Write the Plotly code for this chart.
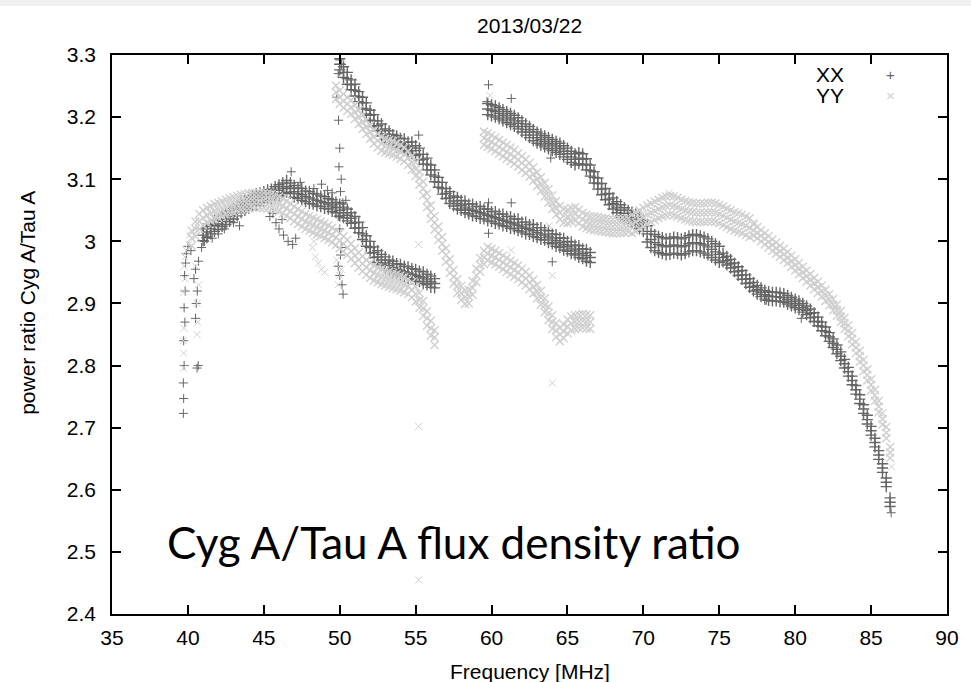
import plotly.graph_objects as go

# ---------------- tick labels ----------------
x_tick_vals = [35, 40, 45, 50, 55, 60, 65, 70, 75, 80, 85, 90]
x_tick_text = ["35", "40", "45", "50", "55", "60", "65", "70", "75", "80", "85", "90"]
y_tick_vals = [2.4, 2.5, 2.6, 2.7, 2.8, 2.9, 3.0, 3.1, 3.2, 3.3]
y_tick_text = ["2.4", "2.5", "2.6", "2.7", "2.8", "2.9", "3", "3.1", "3.2", "3.3"]

# ---------------- XX (band upper edge / middle / lower edge) ----------------
xx_a_freq = [41.00, 41.25, 41.50, 41.75, 42.00, 42.25, 42.50, 42.75, 43.00, 43.25, 43.50, 43.75,
             44.00, 44.25, 44.50, 44.75, 45.00, 45.25, 45.50, 45.75, 46.00, 46.25, 46.50, 46.75,
             47.00, 47.25, 47.50, 47.75, 48.00, 48.25, 48.50, 48.75, 49.00, 49.25, 49.50, 49.75,
             50.00, 50.25, 50.50, 50.75, 51.00, 51.25, 51.50, 51.75, 52.00, 52.25, 52.50, 52.75,
             53.00, 53.25, 53.50, 53.75, 54.00, 54.25, 54.50, 54.75, 55.00, 55.25, 55.50, 55.75,
             56.00, 56.25]
xx_a_upper = [3.020, 3.024, 3.027, 3.034, 3.036, 3.041, 3.044, 3.049, 3.053, 3.058, 3.063, 3.066,
              3.071, 3.073, 3.077, 3.078, 3.080, 3.083, 3.084, 3.088, 3.091, 3.094, 3.098, 3.094,
              3.090, 3.086, 3.085, 3.081, 3.080, 3.077, 3.076, 3.073, 3.072, 3.069, 3.067, 3.063,
              3.060, 3.055, 3.052, 3.046, 3.040, 3.031, 3.022, 3.009, 3.000, 2.991, 2.985, 2.979,
              2.975, 2.970, 2.968, 2.964, 2.963, 2.960, 2.959, 2.956, 2.955, 2.952, 2.951, 2.947,
              2.944, 2.940]
xx_a_middle = [3.010, 3.015, 3.020, 3.025, 3.028, 3.032, 3.036, 3.040, 3.045, 3.050, 3.055, 3.058,
               3.062, 3.065, 3.068, 3.070, 3.072, 3.074, 3.076, 3.078, 3.082, 3.085, 3.088, 3.085,
               3.080, 3.077, 3.075, 3.072, 3.070, 3.068, 3.066, 3.064, 3.062, 3.060, 3.057, 3.054,
               3.050, 3.046, 3.042, 3.037, 3.030, 3.022, 3.012, 3.000, 2.990, 2.982, 2.975, 2.970,
               2.965, 2.961, 2.958, 2.955, 2.953, 2.951, 2.949, 2.947, 2.945, 2.943, 2.941, 2.938,
               2.935, 2.932]
xx_a_lower = [3.001, 3.006, 3.012, 3.016, 3.019, 3.024, 3.027, 3.032, 3.036, 3.041, 3.046, 3.050,
              3.053, 3.057, 3.059, 3.062, 3.063, 3.066, 3.067, 3.070, 3.073, 3.077, 3.079, 3.077,
              3.071, 3.069, 3.066, 3.064, 3.061, 3.060, 3.057, 3.056, 3.053, 3.052, 3.048, 3.046,
              3.041, 3.038, 3.033, 3.029, 3.021, 3.014, 3.003, 2.992, 2.981, 2.974, 2.966, 2.962,
              2.956, 2.953, 2.949, 2.947, 2.944, 2.943, 2.940, 2.939, 2.936, 2.935, 2.932, 2.930,
              2.926, 2.925]

xx_b_freq = [50.00, 50.25, 50.50, 50.75, 51.00, 51.25, 51.50, 51.75, 52.00, 52.25, 52.50, 52.75,
             53.00, 53.25, 53.50, 53.75, 54.00, 54.25, 54.50, 54.75, 55.00, 55.25, 55.50, 55.75,
             56.00, 56.25, 56.50, 56.75, 57.00, 57.25, 57.50, 57.75, 58.00, 58.25, 58.50, 58.75,
             59.00, 59.25, 59.50, 59.75, 60.00, 60.25, 60.50, 60.75, 61.00, 61.25, 61.50, 61.75,
             62.00, 62.25, 62.50, 62.75, 63.00, 63.25, 63.50, 63.75, 64.00, 64.25, 64.50, 64.75,
             65.00, 65.25, 65.50, 65.75, 66.00, 66.25, 66.50]
xx_b_upper = [3.294, 3.281, 3.272, 3.260, 3.253, 3.241, 3.232, 3.223, 3.211, 3.204, 3.194, 3.189,
              3.181, 3.178, 3.172, 3.170, 3.166, 3.165, 3.160, 3.160, 3.154, 3.150, 3.140, 3.134,
              3.123, 3.115, 3.103, 3.095, 3.085, 3.080, 3.073, 3.071, 3.066, 3.065, 3.060, 3.060,
              3.056, 3.056, 3.052, 3.052, 3.048, 3.048, 3.044, 3.044, 3.040, 3.040, 3.036, 3.036,
              3.031, 3.031, 3.027, 3.027, 3.022, 3.022, 3.018, 3.017, 3.012, 3.011, 3.006, 3.005,
              3.000, 2.999, 2.994, 2.993, 2.988, 2.987, 2.982]
xx_b_middle = [3.285, 3.272, 3.262, 3.252, 3.243, 3.233, 3.223, 3.213, 3.203, 3.194, 3.186, 3.179,
               3.173, 3.168, 3.164, 3.160, 3.158, 3.155, 3.152, 3.150, 3.146, 3.140, 3.132, 3.124,
               3.115, 3.105, 3.095, 3.085, 3.077, 3.070, 3.065, 3.061, 3.058, 3.055, 3.052, 3.050,
               3.048, 3.046, 3.044, 3.042, 3.040, 3.038, 3.036, 3.034, 3.032, 3.030, 3.028, 3.026,
               3.023, 3.021, 3.019, 3.017, 3.014, 3.012, 3.010, 3.007, 3.004, 3.001, 2.998, 2.995,
               2.992, 2.989, 2.986, 2.983, 2.980, 2.977, 2.974]
xx_b_lower = [3.276, 3.264, 3.253, 3.244, 3.234, 3.225, 3.214, 3.205, 3.195, 3.185, 3.178, 3.170,
              3.165, 3.159, 3.156, 3.151, 3.150, 3.146, 3.144, 3.141, 3.138, 3.131, 3.124, 3.115,
              3.107, 3.096, 3.087, 3.076, 3.069, 3.061, 3.057, 3.052, 3.050, 3.046, 3.044, 3.041,
              3.040, 3.037, 3.036, 3.033, 3.032, 3.029, 3.028, 3.025, 3.024, 3.021, 3.020, 3.017,
              3.015, 3.012, 3.011, 3.008, 3.006, 3.003, 3.002, 2.998, 2.996, 2.992, 2.990, 2.986,
              2.984, 2.980, 2.978, 2.974, 2.972, 2.968, 2.966]

xx_c_freq = [59.75, 60.00, 60.25, 60.50, 60.75, 61.00, 61.25, 61.50, 61.75, 62.00, 62.25, 62.50,
             62.75, 63.00, 63.25, 63.50, 63.75, 64.00, 64.25, 64.50, 64.75, 65.00, 65.25, 65.50,
             65.75, 66.00, 66.25, 66.50, 66.75, 67.00, 67.25, 67.50, 67.75, 68.00, 68.25, 68.50,
             68.75, 69.00, 69.25, 69.50, 69.75, 70.00, 70.25, 70.50, 70.75, 71.00, 71.25, 71.50,
             71.75, 72.00, 72.25, 72.50, 72.75, 73.00, 73.25, 73.50, 73.75, 74.00, 74.25, 74.50,
             74.75, 75.00, 75.25, 75.50, 75.75, 76.00, 76.25, 76.50, 76.75, 77.00, 77.25, 77.50,
             77.75, 78.00, 78.25, 78.50, 78.75, 79.00, 79.25, 79.50, 79.75, 80.00, 80.25, 80.50,
             80.75, 81.00, 81.25, 81.50, 81.75, 82.00, 82.25, 82.50, 82.75, 83.00, 83.25, 83.50,
             83.75, 84.00, 84.25, 84.50, 84.75, 85.00, 85.25, 85.50, 85.75, 86.00, 86.25]
xx_c_upper = [3.222, 3.220, 3.218, 3.215, 3.212, 3.209, 3.206, 3.203, 3.199, 3.194, 3.189, 3.185,
              3.180, 3.176, 3.173, 3.170, 3.167, 3.164, 3.161, 3.158, 3.154, 3.150, 3.145, 3.141,
              3.143, 3.141, 3.133, 3.123, 3.112, 3.102, 3.093, 3.085, 3.077, 3.070, 3.064, 3.059,
              3.054, 3.050, 3.047, 3.044, 3.039, 3.034, 3.025, 3.016, 3.011, 3.008, 3.006, 3.004,
              3.005, 3.007, 3.006, 3.004, 3.006, 3.009, 3.011, 3.011, 3.009, 3.007, 3.004, 3.000,
              2.996, 2.992, 2.981, 2.976, 2.971, 2.965, 2.959, 2.953, 2.946, 2.940, 2.934, 2.929,
              2.925, 2.921, 2.919, 2.918, 2.918, 2.917, 2.916, 2.913, 2.910, 2.907, 2.904, 2.900,
              2.896, 2.891, 2.885, 2.878, 2.870, 2.862, 2.853, 2.843, 2.833, 2.822, 2.810, 2.797,
              2.783, 2.768, 2.753, 2.737, 2.720, 2.702, 2.683, 2.663, 2.642, 2.619, 2.587]
xx_c_middle = [3.213, 3.211, 3.209, 3.206, 3.203, 3.200, 3.197, 3.194, 3.190, 3.185, 3.180, 3.176,
               3.171, 3.167, 3.164, 3.161, 3.158, 3.155, 3.152, 3.149, 3.145, 3.141, 3.136, 3.132,
               3.134, 3.132, 3.124, 3.114, 3.103, 3.093, 3.084, 3.076, 3.068, 3.061, 3.055, 3.050,
               3.045, 3.041, 3.038, 3.035, 3.030, 3.025, 3.012, 3.003, 2.998, 2.995, 2.993, 2.991,
               2.992, 2.994, 2.993, 2.991, 2.993, 2.996, 2.998, 2.998, 2.996, 2.994, 2.991, 2.987,
               2.983, 2.979, 2.974, 2.969, 2.964, 2.958, 2.952, 2.946, 2.939, 2.933, 2.927, 2.922,
               2.918, 2.914, 2.912, 2.911, 2.911, 2.910, 2.909, 2.906, 2.903, 2.900, 2.897, 2.893,
               2.889, 2.884, 2.878, 2.871, 2.863, 2.855, 2.846, 2.836, 2.826, 2.815, 2.803, 2.790,
               2.776, 2.761, 2.746, 2.730, 2.713, 2.695, 2.676, 2.656, 2.635, 2.612, 2.580]
xx_c_lower = [3.204, 3.202, 3.200, 3.197, 3.194, 3.191, 3.188, 3.185, 3.181, 3.176, 3.171, 3.167,
              3.162, 3.158, 3.155, 3.152, 3.149, 3.146, 3.143, 3.140, 3.136, 3.132, 3.127, 3.123,
              3.125, 3.123, 3.115, 3.105, 3.094, 3.084, 3.075, 3.067, 3.059, 3.052, 3.046, 3.041,
              3.036, 3.032, 3.029, 3.026, 3.021, 3.016, 2.999, 2.990, 2.985, 2.982, 2.980, 2.978,
              2.979, 2.981, 2.980, 2.978, 2.980, 2.983, 2.985, 2.985, 2.983, 2.981, 2.978, 2.974,
              2.970, 2.966, 2.967, 2.962, 2.957, 2.951, 2.945, 2.939, 2.932, 2.926, 2.920, 2.915,
              2.911, 2.907, 2.905, 2.904, 2.904, 2.903, 2.902, 2.899, 2.896, 2.893, 2.890, 2.886,
              2.882, 2.877, 2.871, 2.864, 2.856, 2.848, 2.839, 2.829, 2.819, 2.808, 2.796, 2.783,
              2.769, 2.754, 2.739, 2.723, 2.706, 2.688, 2.669, 2.649, 2.628, 2.605, 2.573]

xx_scatter_freq = [39.70, 39.72, 39.70, 39.75, 39.72, 39.80, 39.75, 39.82, 39.78, 39.85, 39.90, 40.00,
                   40.60, 40.68, 40.50, 40.55, 40.62, 40.40, 40.50, 40.70, 40.20, 40.90, 41.10, 41.30,
                   41.60, 42.00, 42.40, 43.00, 43.40,
                   45.40, 45.60, 45.80, 46.00, 46.20, 46.30, 46.60, 46.90, 47.10, 46.80, 47.40, 48.30,
                   48.80, 49.20, 49.50, 50.40,
                   50.00, 50.12, 49.90, 49.80, 49.92, 50.00, 49.95, 50.10, 50.05, 50.20, 49.90, 50.00,
                   50.10, 50.05, 49.90, 50.00, 50.15, 50.22,
                   55.20, 59.80, 61.30, 64.00, 63.90, 59.80, 59.80, 61.30, 59.70, 80.40, 78.10, 86.32]
xx_scatter_vals = [2.723, 2.747, 2.772, 2.800, 2.840, 2.870, 2.893, 2.920, 2.945, 2.965, 2.980, 2.992,
                   2.796, 2.800, 2.876, 2.900, 2.920, 2.940, 2.955, 2.968, 2.985, 2.990, 3.000, 3.008,
                   3.005, 3.012, 3.020, 3.030, 3.025,
                   3.040, 3.045, 3.030, 3.020, 3.035, 3.010, 3.000, 2.995, 3.005, 3.112, 3.095, 3.085,
                   3.092, 3.082, 3.078, 3.066,
                   3.292, 3.285, 3.270, 3.232, 3.195, 3.150, 3.120, 3.100, 3.080, 3.062, 3.040, 3.020,
                   2.990, 2.978, 2.960, 2.945, 2.930, 2.915,
                   3.171, 3.062, 3.062, 2.967, 3.134, 3.013, 3.252, 3.230, 3.225, 2.876, 2.905, 2.563]

# ---------------- YY (band upper edge / middle / lower edge) ----------------
yy_a_freq = [40.25, 40.50, 40.75, 41.00, 41.25, 41.50, 41.75, 42.00, 42.25, 42.50, 42.75, 43.00,
             43.25, 43.50, 43.75, 44.00, 44.25, 44.50, 44.75, 45.00, 45.25, 45.50, 45.75, 46.00,
             46.25, 46.50, 46.75, 47.00, 47.25, 47.50, 47.75, 48.00, 48.25, 48.50, 48.75, 49.00,
             49.25, 49.50, 49.75, 50.00, 50.25, 50.50, 50.75, 51.00, 51.25, 51.50, 51.75, 52.00,
             52.25, 52.50, 52.75, 53.00, 53.25, 53.50, 53.75, 54.00, 54.25, 54.50, 54.75, 55.00,
             55.25, 55.50, 55.75, 56.00, 56.25]
yy_a_upper = [3.017, 3.032, 3.044, 3.050, 3.054, 3.057, 3.060, 3.062, 3.064, 3.067, 3.069, 3.071,
              3.073, 3.075, 3.076, 3.077, 3.078, 3.078, 3.078, 3.078, 3.077, 3.076, 3.074, 3.072,
              3.069, 3.065, 3.061, 3.056, 3.052, 3.048, 3.044, 3.041, 3.038, 3.035, 3.032, 3.029,
              3.026, 3.022, 3.018, 3.013, 3.008, 3.002, 2.996, 2.989, 2.982, 2.976, 2.970, 2.965,
              2.961, 2.958, 2.955, 2.953, 2.951, 2.949, 2.947, 2.945, 2.942, 2.939, 2.934, 2.927,
              2.917, 2.904, 2.888, 2.872, 2.857]
yy_a_middle = [3.005, 3.020, 3.032, 3.038, 3.042, 3.045, 3.048, 3.050, 3.052, 3.055, 3.057, 3.059,
               3.061, 3.063, 3.064, 3.065, 3.066, 3.066, 3.066, 3.066, 3.065, 3.064, 3.062, 3.060,
               3.057, 3.053, 3.049, 3.044, 3.040, 3.036, 3.032, 3.029, 3.026, 3.023, 3.020, 3.017,
               3.014, 3.010, 3.006, 3.001, 2.996, 2.990, 2.984, 2.977, 2.970, 2.964, 2.958, 2.953,
               2.949, 2.946, 2.943, 2.941, 2.939, 2.937, 2.935, 2.933, 2.930, 2.927, 2.922, 2.915,
               2.905, 2.892, 2.876, 2.860, 2.845]
yy_a_lower = [2.993, 3.008, 3.020, 3.026, 3.030, 3.033, 3.036, 3.038, 3.040, 3.043, 3.045, 3.047,
              3.049, 3.051, 3.052, 3.053, 3.054, 3.054, 3.054, 3.054, 3.053, 3.052, 3.050, 3.048,
              3.045, 3.041, 3.037, 3.032, 3.028, 3.024, 3.020, 3.017, 3.014, 3.011, 3.008, 3.005,
              3.002, 2.998, 2.994, 2.989, 2.984, 2.978, 2.972, 2.965, 2.958, 2.952, 2.946, 2.941,
              2.937, 2.934, 2.931, 2.929, 2.927, 2.925, 2.923, 2.921, 2.918, 2.915, 2.910, 2.903,
              2.893, 2.880, 2.864, 2.848, 2.833]

yy_b_freq = [49.75, 50.00, 50.25, 50.50, 50.75, 51.00, 51.25, 51.50, 51.75, 52.00, 52.25, 52.50,
             52.75, 53.00, 53.25, 53.50, 53.75, 54.00, 54.25, 54.50, 54.75, 55.00, 55.25, 55.50,
             55.75, 56.00, 56.25, 56.50, 56.75, 57.00, 57.25, 57.50, 57.75, 58.00, 58.25, 58.50,
             58.75, 59.00, 59.25, 59.50, 59.75, 60.00, 60.25, 60.50, 60.75, 61.00, 61.25, 61.50,
             61.75, 62.00, 62.25, 62.50, 62.75, 63.00, 63.25, 63.50, 63.75, 64.00, 64.25, 64.50,
             64.75, 65.00, 65.25, 65.50, 65.75, 66.00, 66.25, 66.50]
yy_b_upper = [3.251, 3.243, 3.237, 3.232, 3.227, 3.219, 3.211, 3.203, 3.195, 3.187, 3.179, 3.173,
              3.168, 3.165, 3.163, 3.161, 3.158, 3.155, 3.151, 3.145, 3.137, 3.127, 3.113, 3.096,
              3.077, 3.058, 3.041, 3.024, 3.007, 2.989, 2.971, 2.954, 2.939, 2.928, 2.921, 2.922,
              2.936, 2.956, 2.973, 2.985, 2.991, 2.988, 2.985, 2.981, 2.977, 2.973, 2.969, 2.965,
              2.961, 2.956, 2.951, 2.945, 2.938, 2.930, 2.920, 2.908, 2.895, 2.881, 2.868, 2.861,
              2.866, 2.874, 2.879, 2.881, 2.882, 2.883, 2.882, 2.881]
yy_b_middle = [3.240, 3.232, 3.226, 3.221, 3.216, 3.208, 3.200, 3.192, 3.184, 3.176, 3.168, 3.162,
               3.157, 3.154, 3.152, 3.150, 3.147, 3.144, 3.140, 3.134, 3.126, 3.116, 3.102, 3.085,
               3.066, 3.047, 3.030, 3.013, 2.996, 2.978, 2.960, 2.943, 2.928, 2.917, 2.910, 2.911,
               2.925, 2.945, 2.962, 2.974, 2.980, 2.977, 2.974, 2.970, 2.966, 2.962, 2.958, 2.954,
               2.950, 2.945, 2.940, 2.934, 2.927, 2.919, 2.909, 2.897, 2.884, 2.870, 2.857, 2.850,
               2.855, 2.863, 2.868, 2.870, 2.871, 2.872, 2.871, 2.870]
yy_b_lower = [3.229, 3.221, 3.215, 3.210, 3.205, 3.197, 3.189, 3.181, 3.173, 3.165, 3.157, 3.151,
              3.146, 3.143, 3.141, 3.139, 3.136, 3.133, 3.129, 3.123, 3.115, 3.105, 3.091, 3.074,
              3.055, 3.036, 3.019, 3.002, 2.985, 2.967, 2.949, 2.932, 2.917, 2.906, 2.899, 2.900,
              2.914, 2.934, 2.951, 2.963, 2.969, 2.966, 2.963, 2.959, 2.955, 2.951, 2.947, 2.943,
              2.939, 2.934, 2.929, 2.923, 2.916, 2.908, 2.898, 2.886, 2.873, 2.859, 2.846, 2.839,
              2.844, 2.852, 2.857, 2.859, 2.860, 2.861, 2.860, 2.859]

yy_c_freq = [59.50, 59.75, 60.00, 60.25, 60.50, 60.75, 61.00, 61.25, 61.50, 61.75, 62.00, 62.25,
             62.50, 62.75, 63.00, 63.25, 63.50, 63.75, 64.00, 64.25, 64.50, 64.75, 65.00, 65.25,
             65.50, 65.75, 66.00, 66.25, 66.50, 66.75, 67.00, 67.25, 67.50, 67.75, 68.00, 68.25,
             68.50, 68.75, 69.00, 69.25, 69.50, 69.75, 70.00, 70.25, 70.50, 70.75, 71.00, 71.25,
             71.50, 71.75, 72.00, 72.25, 72.50, 72.75, 73.00, 73.25, 73.50, 73.75, 74.00, 74.25,
             74.50, 74.75, 75.00, 75.25, 75.50, 75.75, 76.00, 76.25, 76.50, 76.75, 77.00, 77.25,
             77.50, 77.75, 78.00, 78.25, 78.50, 78.75, 79.00, 79.25, 79.50, 79.75, 80.00, 80.25,
             80.50, 80.75, 81.00, 81.25, 81.50, 81.75, 82.00, 82.25, 82.50, 82.75, 83.00, 83.25,
             83.50, 83.75, 84.00, 84.25, 84.50, 84.75, 85.00, 85.25, 85.50, 85.75, 86.00, 86.25]
yy_c_upper = [3.177, 3.174, 3.171, 3.167, 3.163, 3.159, 3.155, 3.151, 3.147, 3.142, 3.137, 3.132,
              3.126, 3.119, 3.111, 3.103, 3.094, 3.084, 3.074, 3.065, 3.057, 3.052, 3.051, 3.054,
              3.055, 3.051, 3.046, 3.043, 3.041, 3.040, 3.039, 3.038, 3.037, 3.036, 3.035, 3.035,
              3.035, 3.036, 3.037, 3.043, 3.046, 3.050, 3.054, 3.058, 3.061, 3.064, 3.067, 3.070,
              3.072, 3.073, 3.072, 3.070, 3.067, 3.065, 3.063, 3.062, 3.061, 3.061, 3.061, 3.062,
              3.062, 3.061, 3.059, 3.056, 3.053, 3.050, 3.047, 3.045, 3.043, 3.040, 3.037, 3.027,
              3.023, 3.018, 3.013, 3.008, 3.003, 2.998, 2.993, 2.988, 2.983, 2.977, 2.971, 2.965,
              2.959, 2.953, 2.947, 2.941, 2.935, 2.929, 2.922, 2.915, 2.907, 2.898, 2.888, 2.877,
              2.865, 2.852, 2.838, 2.824, 2.809, 2.794, 2.778, 2.761, 2.743, 2.723, 2.701, 2.669]
yy_c_middle = [3.166, 3.163, 3.160, 3.156, 3.152, 3.148, 3.144, 3.140, 3.136, 3.131, 3.126, 3.121,
               3.115, 3.108, 3.100, 3.092, 3.083, 3.073, 3.063, 3.054, 3.046, 3.041, 3.040, 3.043,
               3.044, 3.040, 3.035, 3.032, 3.030, 3.029, 3.028, 3.027, 3.026, 3.025, 3.024, 3.024,
               3.024, 3.025, 3.026, 3.028, 3.031, 3.035, 3.039, 3.043, 3.046, 3.049, 3.052, 3.055,
               3.057, 3.058, 3.057, 3.055, 3.052, 3.050, 3.048, 3.047, 3.046, 3.046, 3.046, 3.047,
               3.047, 3.046, 3.044, 3.041, 3.038, 3.035, 3.032, 3.030, 3.028, 3.025, 3.022, 3.018,
               3.014, 3.009, 3.004, 2.999, 2.994, 2.989, 2.984, 2.979, 2.974, 2.968, 2.962, 2.956,
               2.950, 2.944, 2.938, 2.932, 2.926, 2.920, 2.913, 2.906, 2.898, 2.889, 2.879, 2.868,
               2.856, 2.843, 2.829, 2.815, 2.800, 2.785, 2.769, 2.752, 2.734, 2.714, 2.692, 2.660]
yy_c_lower = [3.155, 3.152, 3.149, 3.145, 3.141, 3.137, 3.133, 3.129, 3.125, 3.120, 3.115, 3.110,
              3.104, 3.097, 3.089, 3.081, 3.072, 3.062, 3.052, 3.043, 3.035, 3.030, 3.029, 3.032,
              3.033, 3.029, 3.024, 3.021, 3.019, 3.018, 3.017, 3.016, 3.015, 3.014, 3.013, 3.013,
              3.013, 3.014, 3.015, 3.013, 3.016, 3.020, 3.024, 3.028, 3.031, 3.034, 3.037, 3.040,
              3.042, 3.043, 3.042, 3.040, 3.037, 3.035, 3.033, 3.032, 3.031, 3.031, 3.031, 3.032,
              3.032, 3.031, 3.029, 3.026, 3.023, 3.020, 3.017, 3.015, 3.013, 3.010, 3.007, 3.009,
              3.005, 3.000, 2.995, 2.990, 2.985, 2.980, 2.975, 2.970, 2.965, 2.959, 2.953, 2.947,
              2.941, 2.935, 2.929, 2.923, 2.917, 2.911, 2.904, 2.897, 2.889, 2.880, 2.870, 2.859,
              2.847, 2.834, 2.820, 2.806, 2.791, 2.776, 2.760, 2.743, 2.725, 2.705, 2.683, 2.651]

yy_scatter_freq = [39.70, 39.72, 39.70, 39.75, 39.72, 39.80, 39.75, 39.80, 39.90, 40.60, 40.65, 40.60,
                   40.70, 40.50, 40.05, 40.10,
                   48.20, 48.40, 48.60, 48.80, 49.00, 48.30, 49.80, 50.00, 49.90, 50.10,
                   55.20, 55.20, 55.20, 64.00, 59.90, 64.00, 63.80, 61.30, 71.70, 77.30, 86.35]
yy_scatter_vals = [2.796, 2.820, 2.840, 2.860, 2.918, 2.940, 2.960, 2.975, 2.985, 2.850, 2.870, 2.900,
                   2.930, 2.960, 2.995, 3.010,
                   2.990, 2.975, 2.965, 2.955, 2.950, 3.000, 2.970, 2.945, 2.930, 2.955,
                   2.995, 2.702, 2.455, 2.772, 3.235, 2.945, 3.025, 2.986, 3.078, 3.031, 2.637]

XX_COLOR = "#666666"
YY_COLOR = "#cfcfcf"
FONT = "Liberation Sans, Arial, sans-serif"
FS = 21

fig = go.Figure()


def add_points(freqs, vals, color, symbol, size, width):
    fig.add_trace(go.Scatter(
        x=freqs, y=vals, mode="markers", showlegend=False, hoverinfo="skip",
        marker=dict(symbol=symbol, size=size, color=color,
                    line=dict(width=width, color=color)),
    ))


xx_band_sets = [(xx_a_freq, xx_a_upper), (xx_a_freq, xx_a_middle), (xx_a_freq, xx_a_lower),
                (xx_b_freq, xx_b_upper), (xx_b_freq, xx_b_middle), (xx_b_freq, xx_b_lower),
                (xx_c_freq, xx_c_upper), (xx_c_freq, xx_c_middle), (xx_c_freq, xx_c_lower)]
yy_band_sets = [(yy_a_freq, yy_a_upper), (yy_a_freq, yy_a_middle), (yy_a_freq, yy_a_lower),
                (yy_b_freq, yy_b_upper), (yy_b_freq, yy_b_middle), (yy_b_freq, yy_b_lower),
                (yy_c_freq, yy_c_upper), (yy_c_freq, yy_c_middle), (yy_c_freq, yy_c_lower)]

for f, v in xx_band_sets:
    add_points(f, v, XX_COLOR, "cross-thin-open", 8, 1.4)
add_points(xx_scatter_freq, xx_scatter_vals, XX_COLOR, "cross-thin-open", 6.5, 1)
for f, v in yy_band_sets:
    add_points(f, v, YY_COLOR, "x-thin-open", 8, 1.4)
add_points(yy_scatter_freq, yy_scatter_vals, YY_COLOR, "x-thin-open", 7, 1)

axis_common = dict(
    showline=True, linecolor="black", linewidth=1.5, mirror="ticks",
    ticks="inside", ticklen=9, tickwidth=1.5, tickcolor="black",
    showgrid=False, zeroline=False,
    tickfont=dict(family=FONT, size=FS, color="black"),
)

fig.update_xaxes(range=[35, 90], tickmode="array", tickvals=x_tick_vals,
                 ticktext=x_tick_text, ticklabelstandoff=4, **axis_common)
fig.update_yaxes(range=[2.4, 3.3], tickmode="array", tickvals=y_tick_vals,
                 ticktext=y_tick_text, ticklabelstandoff=10, **axis_common)

annotations = [
    dict(text="2013/03/22", x=0.5, y=1.052, xref="paper", yref="paper",
         xanchor="center", yanchor="middle", showarrow=False,
         font=dict(family=FONT, size=FS, color="black")),
    dict(text="Frequency [MHz]", x=0.5, y=-0.102, xref="paper", yref="paper",
         xanchor="center", yanchor="middle", showarrow=False,
         font=dict(family=FONT, size=FS, color="black")),
    dict(text="power ratio Cyg A/Tau A", x=-0.101, y=0.556, xref="paper", yref="paper",
         xanchor="center", yanchor="middle", textangle=-90, showarrow=False,
         font=dict(family=FONT, size=FS, color="black")),
    dict(text="XX", x=0.879, y=0.966, xref="paper", yref="paper",
         xanchor="right", yanchor="middle", showarrow=False,
         font=dict(family=FONT, size=FS, color="black")),
    dict(text="YY", x=0.879, y=0.927, xref="paper", yref="paper",
         xanchor="right", yanchor="middle", showarrow=False,
         font=dict(family=FONT, size=FS, color="black")),
    dict(text="+", x=0.9324, y=0.966, xref="paper", yref="paper",
         xanchor="center", yanchor="middle", showarrow=False,
         font=dict(family=FONT, size=15, color=XX_COLOR)),
    dict(text="×", x=0.9324, y=0.927, xref="paper", yref="paper",
         xanchor="center", yanchor="middle", showarrow=False,
         font=dict(family=FONT, size=15, color=YY_COLOR)),
    dict(text="Cyg A/Tau A flux density ratio", x=0.063, y=0.129, xref="paper", yref="paper",
         xanchor="left", yanchor="middle", showarrow=False,
         font=dict(family="Lato, Open Sans, sans-serif", size=44, color="black")),
]

fig.update_layout(
    width=971, height=682,
    margin=dict(l=112, r=16, t=55, b=68),
    paper_bgcolor="white", plot_bgcolor="white",
    annotations=annotations,
    shapes=[dict(type="rect", xref="paper", yref="paper", x0=-0.14, x1=1.03,
                 y0=1.0877, y1=1.11, fillcolor="#f0f0f0", line=dict(width=0),
                 layer="below")],
)

fig.write_html("out.html")
